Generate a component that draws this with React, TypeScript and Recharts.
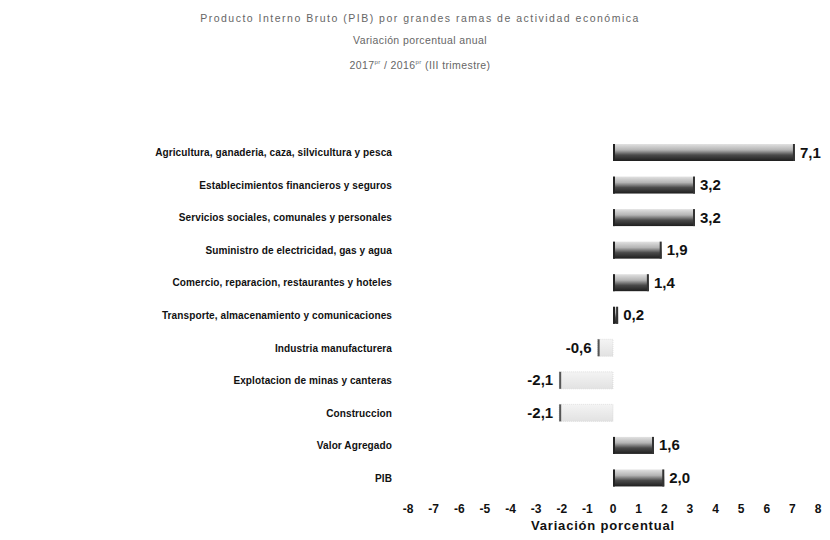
import React from "react";
import { BarChart, Bar, XAxis, YAxis, LabelList } from "recharts";

const categories = [
  "Agricultura, ganaderia, caza, silvicultura y pesca",
  "Establecimientos financieros y seguros",
  "Servicios sociales, comunales y personales",
  "Suministro de electricidad, gas y agua",
  "Comercio, reparacion, restaurantes y hoteles",
  "Transporte, almacenamiento y comunicaciones",
  "Industria manufacturera",
  "Explotacion de minas y canteras",
  "Construccion",
  "Valor Agregado",
  "PIB",
];
const values = [7.1, 3.2, 3.2, 1.9, 1.4, 0.2, -0.6, -2.1, -2.1, 1.6, 2.0];
const xTicks = [-8, -7, -6, -5, -4, -3, -2, -1, 0, 1, 2, 3, 4, 5, 6, 7, 8];

const titleLine1 = "Producto Interno Bruto (PIB) por grandes ramas de actividad económica";
const titleLine2 = "Variación porcentual anual";
const axisTitle = "Variación porcentual";

const data = categories.map((c, i) => ({ name: c, value: values[i] }));

const FONT = "Arial, 'Liberation Sans', sans-serif";

const BarShape = (props: any) => {
  const { x, y, width, height, value } = props;
  const left = Math.min(x, x + width);
  const w = Math.abs(width);
  if (value >= 0) {
    return (
      <g>
        <rect x={left} y={y} width={w} height={height} fill="url(#posGrad)" />
        <rect x={left} y={y} width={Math.min(2, w)} height={height} fill="#222" />
        <rect x={left + w - Math.min(2, w)} y={y} width={Math.min(2, w)} height={height} fill="#333" />
      </g>
    );
  }
  return (
    <g>
      <rect x={left} y={y} width={w} height={height} fill="url(#negGrad)" stroke="#d0d0d0" strokeWidth={0.6} strokeDasharray="1 1" />
      <rect x={left} y={y} width={2} height={height} fill="#555" />
    </g>
  );
};

const ValueLabel = (props: any) => {
  const { x, y, width, height, value } = props;
  const v = Number(value);
  const txt = v.toFixed(1).replace(".", ",");
  const end = x + width;
  const pos = v >= 0;
  const tx = pos ? Math.max(x, end) + 5 : Math.min(x, end) - 6;
  return (
    <text
      x={tx}
      y={y + height / 2}
      dy={5}
      textAnchor={pos ? "start" : "end"}
      fontFamily={FONT}
      fontSize={15}
      fontWeight="bold"
      fill="#111"
    >
      {txt}
    </text>
  );
};

const CatTick = (props: any) => {
  const { x, y, payload } = props;
  return (
    <g transform={`translate(${x},${y}) scale(0.875,1)`}>
      <text
        x={0}
        y={0}
        dy={4}
        textAnchor="end"
        fontFamily={FONT}
        fontSize={11.5}
        fontWeight="bold"
        letterSpacing={0.1}
        fill="#111"
      >
        {payload.value}
      </text>
    </g>
  );
};

const NumTick = (props: any) => {
  const { x, y, payload } = props;
  return (
    <text
      x={x}
      y={y}
      dy={11}
      textAnchor="middle"
      fontFamily={FONT}
      fontSize={12}
      fontWeight="bold"
      fill="#111"
    >
      {payload.value}
    </text>
  );
};

export default function App() {
  return (
    <div style={{ position: "absolute", left: 0, top: 0, width: 830, height: 540, background: "#fff" }}>
      <div
        style={{
          position: "absolute",
          left: 0,
          top: 0,
          width: 840,
          textAlign: "center",
          fontFamily: FONT,
          fontSize: 10.5,
          color: "#666",
          lineHeight: "22px",
          paddingTop: 7,
        }}
      >
        <div style={{ letterSpacing: 1.5 }}>{titleLine1}</div>
        <div style={{ letterSpacing: 0.4 }}>{titleLine2}</div>
        <div style={{ letterSpacing: 0.4 }}>
          2017<sup style={{ fontSize: 6 }}>pr</sup> / 2016<sup style={{ fontSize: 6 }}>pr</sup> (III trimestre)
        </div>
      </div>
      <BarChart
        width={830}
        height={540}
        data={data}
        layout="vertical"
        margin={{ top: 136, right: 12, bottom: 6, left: 0 }}
        barCategoryGap={8}
      >
        <defs>
          <linearGradient id="posGrad" x1="0" y1="0" x2="0" y2="1">
            <stop offset="0%" stopColor="#e2e2e2" />
            <stop offset="35%" stopColor="#b4b4b4" />
            <stop offset="65%" stopColor="#4a4a4a" />
            <stop offset="100%" stopColor="#1e1e1e" />
          </linearGradient>
          <linearGradient id="negGrad" x1="0" y1="0" x2="0" y2="1">
            <stop offset="0%" stopColor="#f4f4f4" />
            <stop offset="100%" stopColor="#e2e2e2" />
          </linearGradient>
        </defs>
        <XAxis
          type="number"
          domain={[-8, 8]}
          ticks={xTicks}
          interval={0}
          axisLine={false}
          tickLine={false}
          height={40}
          tick={<NumTick />}
          label={{
            value: axisTitle,
            position: "insideBottom",
            offset: 4,
            dx: -10,
            style: { fontFamily: FONT, fontSize: 13, fontWeight: "bold", fill: "#111", letterSpacing: 0.8 },
          }}
        />
        <YAxis
          type="category"
          dataKey="name"
          width={408}
          axisLine={false}
          tickLine={false}
          tickMargin={10}
          interval={0}
          tick={<CatTick />}
        />
        <Bar dataKey="value" barSize={17} isAnimationActive={false} shape={<BarShape />}>
          <LabelList dataKey="value" content={<ValueLabel />} />
        </Bar>
      </BarChart>
    </div>
  );
}
